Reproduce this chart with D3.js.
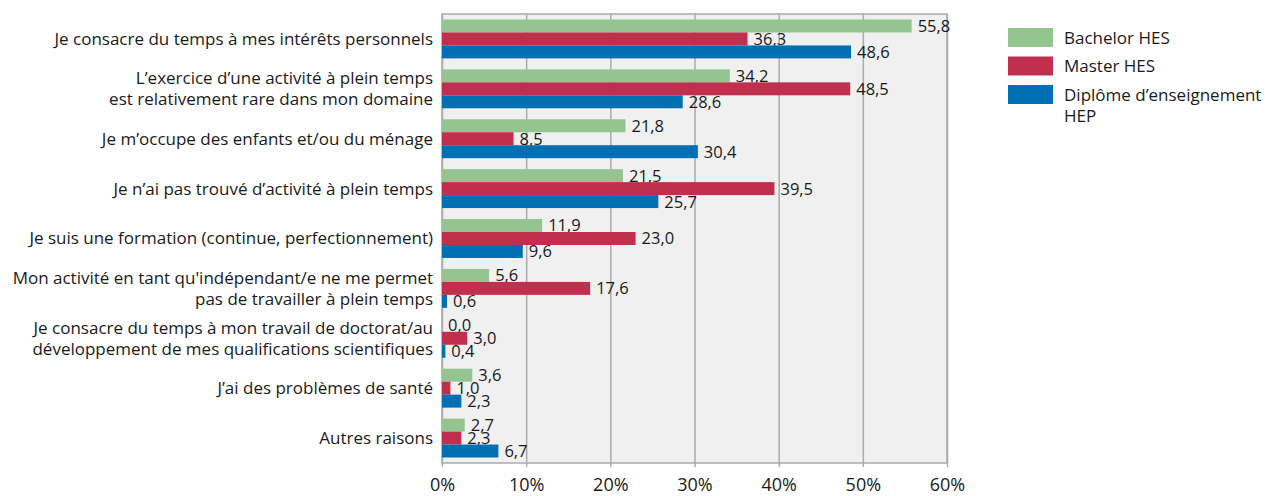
<!DOCTYPE html>
<html>
<head>
<meta charset="utf-8">
<script src="https://cdn.jsdelivr.net/npm/d3@7"></script>
<style>
  body { margin: 0; background: #fff; }
  text { font-family: "Open Sans", sans-serif; fill: #1a1a1a; }
</style>
</head>
<body>
<script>
const [width, height] = [1265, 496]
const margin = { top: 14, left: 442, right: 318, bottom: 33 }

// categories (each label split into lines)
const categories = [
  ["Je consacre du temps à mes intérêts personnels"],
  ["L’exercice d’une activité à plein temps", "est relativement rare dans mon domaine"],
  ["Je m’occupe des enfants et/ou du ménage"],
  ["Je n’ai pas trouvé d’activité à plein temps"],
  ["Je suis une formation (continue, perfectionnement)"],
  ["Mon activité en tant qu'indépendant/e ne me permet", "pas de travailler à plein temps"],
  ["Je consacre du temps à mon travail de doctorat/au", "développement de mes qualifications scientifiques"],
  ["J’ai des problèmes de santé"],
  ["Autres raisons"]
]
const seriesNames = ["Bachelor HES", "Master HES", "Diplôme d’enseignement HEP"]
const bachelor = [55.8, 34.2, 21.8, 21.5, 11.9, 5.6, 0.0, 3.6, 2.7]
const master   = [36.3, 48.5, 8.5, 39.5, 23.0, 17.6, 3.0, 1.0, 2.3]
const hep      = [48.6, 28.6, 30.4, 25.7, 9.6, 0.6, 0.4, 2.3, 6.7]
const xTicks = [0, 10, 20, 30, 40, 50, 60]
const colors = ["#94c591", "#c02f4e", "#0070b2"]

const seriesValues = [bachelor, master, hep]

const svg = d3.select('body')
  .append('svg')
  .attr("width", width)
  .attr("height", height)

const plotW = width - margin.left - margin.right
const plotBottom = 463

const x = d3.scaleLinear().domain([0, 60]).range([margin.left, margin.left + plotW])
const y = d3.scaleBand()
  .domain(d3.range(categories.length))
  .range([margin.top, plotBottom])
  .paddingInner(0.22)
  .paddingOuter(0.11)
const ySub = d3.scaleBand().domain(d3.range(3)).range([0, y.bandwidth()])

// plot background
svg.append("rect")
  .attr("x", x(0)).attr("y", margin.top)
  .attr("width", x(60) - x(0)).attr("height", plotBottom - margin.top)
  .attr("fill", "#f0f0f0")
  .attr("stroke", "#ababab").attr("stroke-width", 1.5)

// x axis with gridlines
const xAxis = svg.append("g")
  .attr("transform", `translate(0,${plotBottom})`)
  .call(d3.axisBottom(x).tickValues(xTicks)
    .tickSize(plotBottom - margin.top)
    .tickFormat(d => d + "%"))
xAxis.select(".domain").remove()
xAxis.selectAll(".tick line")
  .attr("y1", 4)
  .attr("y2", -(plotBottom - margin.top))
  .attr("stroke", "#ababab").attr("stroke-width", 1.5)
xAxis.selectAll(".tick text")
  .attr("y", 0).attr("dy", 28)
  .attr("font-size", "18px")
  .attr("font-family", "Open Sans, sans-serif")
  .attr("fill", "#1a1a1a")

// bars and value labels
seriesValues.forEach((vals, s) => {
  const g = svg.append("g")
  g.selectAll("rect")
    .data(vals)
    .enter()
    .append("rect")
      .attr("x", x(0))
      .attr("y", (d, i) => y(i) + ySub(s))
      .attr("width", d => x(d) - x(0))
      .attr("height", ySub.bandwidth())
      .attr("fill", colors[s])
  g.selectAll("text")
    .data(vals)
    .enter()
    .append("text")
      .text(d => d.toFixed(1).replace(".", ","))
      .attr("x", d => x(d) + 6)
      .attr("y", (d, i) => y(i) + ySub(s) + ySub.bandwidth() / 2)
      .attr("dy", "0.36em")
      .attr("font-size", "16.5px")
})

// category labels
const labels = svg.append("g")
categories.forEach((lines, i) => {
  const cy = y(i) + y.bandwidth() / 2
  const t = labels.append("text")
    .attr("text-anchor", "end")
    .attr("font-size", "17px")
  lines.forEach((line, j) => {
    t.append("tspan")
      .attr("x", x(0) - 9)
      .attr("y", cy + (j - (lines.length - 1) / 2) * 21)
      .attr("dy", "0.35em")
      .text(line)
  })
})

// legend
const legend = svg.append("g").attr("transform", "translate(1008,28)")
const legendLines = [["Bachelor HES"], ["Master HES"], ["Diplôme d’enseignement", "HEP"]]
legendLines.forEach((lines, i) => {
  legend.append("rect")
    .attr("x", 0).attr("y", i * 28.5)
    .attr("width", 45).attr("height", 19)
    .attr("fill", colors[i])
  lines.forEach((line, j) => {
    legend.append("text")
      .attr("x", 56)
      .attr("y", i * 28.5 + 9.5 + j * 21)
      .attr("dy", "0.36em")
      .attr("font-size", "17px")
      .text(line)
  })
})
</script>
</body>
</html>
